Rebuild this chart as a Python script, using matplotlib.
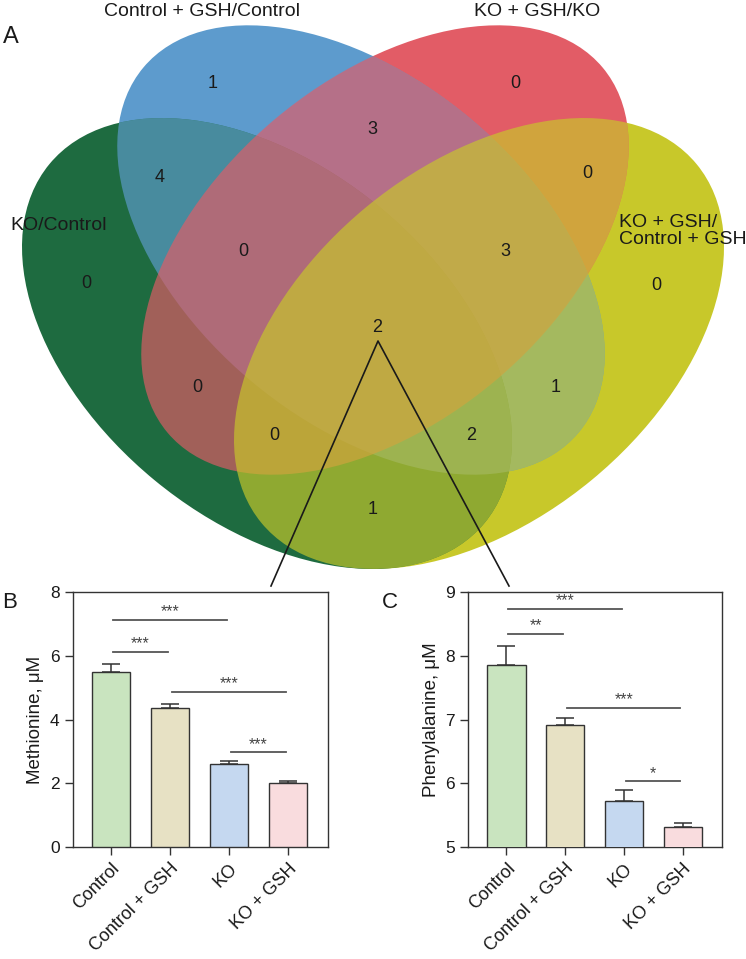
import matplotlib
matplotlib.use("Agg")
import matplotlib.pyplot as plt
from matplotlib.patches import Ellipse
from matplotlib.path import Path

plt.rcParams['font.family'] = ['Liberation Sans', 'DejaVu Sans']

# ---- Venn data (A) ----
set_names = ['KO/Control', 'Control + GSH/Control', 'KO + GSH/KO', 'KO + GSH/\nControl + GSH']
set_colors = ['#1e6b40', '#5d9bcd', '#e25c66', '#c8c82a']
# regions: letters = sets contained (G=KO/Control, B=Control+GSH/Control, R=KO+GSH/KO, Y=KO+GSH/Control+GSH)
regions = ['B', 'R', 'GB', 'BR', 'RY', 'G', 'Y', 'GBR', 'BRY', 'GBRY', 'GR', 'BY', 'GRY', 'GBY', 'GY']
counts = [1, 0, 4, 3, 0, 0, 0, 0, 3, 2, 0, 1, 0, 2, 1]

# ---- bar data (B, C) ----
groups = ['Control', 'Control + GSH', 'KO', 'KO + GSH']
bar_colors = ['#c9e4bf', '#e7e1c4', '#c5d8f0', '#f9dcde']
met_mean = [5.50, 4.36, 2.60, 2.01]
met_err = [0.24, 0.12, 0.10, 0.07]
phe_mean = [7.86, 6.92, 5.72, 5.31]
phe_err = [0.30, 0.10, 0.18, 0.07]
met_sig = [(0, 2, 7.12, '***'), (0, 1, 6.14, '***'), (1, 3, 4.86, '***'), (2, 3, 2.97, '***')]
phe_sig = [(0, 2, 8.74, '***'), (0, 1, 8.34, '**'), (1, 3, 7.18, '***'), (2, 3, 6.03, '*')]

# ---- layout (pixel space of the 746x959 canvas) ----
ell_center = [(267, 343.5), (361, 250), (385, 250), (479, 343.5)]
ell_semi = [(282, 177), (284, 171), (284, 171), (282, 177)]
ell_angle = [39.5, 40, -40, -39.5]
region_xy = {'B': (213, 83), 'R': (515, 83), 'GB': (160, 178), 'BR': (372, 129),
             'RY': (587, 174), 'G': (86, 283), 'Y': (656, 285), 'GBR': (243, 252),
             'BRY': (505, 252), 'GBRY': (377, 328), 'GR': (197, 388), 'BY': (556, 388),
             'GRY': (274, 435), 'GBY': (471, 435), 'GY': (373, 510)}
mix = 0.67

fig = plt.figure(figsize=(7.46, 9.59), dpi=100)
av = fig.add_axes([0, 0, 1, 1])
av.set_xlim(0, 746)
av.set_ylim(959, 0)
av.axis('off')


def make_ell(i, **kw):
    return Ellipse(ell_center[i], 2 * ell_semi[i][0], 2 * ell_semi[i][1],
                   angle=ell_angle[i], linewidth=0, **kw)


# opaque pass: each pixel shows its lowest set colour
for i in [3, 2, 1, 0]:
    av.add_patch(make_ell(i, facecolor=set_colors[i]))

# blended pass: upper sets mixed over the union of the lower ones
shapes = []
for i in range(4):
    e = make_ell(i)
    shapes.append(e.get_patch_transform().transform_path(e.get_path()))
for i in range(1, 4):
    p = make_ell(i, facecolor=set_colors[i], alpha=mix)
    av.add_patch(p)
    p.set_clip_path(Path.make_compound_path(*shapes[:i]), av.transData)

for r, c in zip(regions, counts):
    av.text(*region_xy[r], str(c), ha='center', va='center', fontsize=13, color='#1a1a1a')

av.text(202, 12, set_names[1], ha='center', va='center', fontsize=14, color='#1a1a1a')
av.text(537, 12, set_names[2], ha='center', va='center', fontsize=14, color='#1a1a1a')
av.text(10, 225, set_names[0], ha='left', va='center', fontsize=14, color='#1a1a1a')
av.text(619, 231, set_names[3], ha='left', va='center', fontsize=14, color='#1a1a1a',
        linespacing=1.05)

# zoom lines from the centre region to the two panels
av.plot([271, 378, 509], [586, 341, 586], color='#1a1a1a', lw=1.2)

av.text(11, 37, 'A', ha='center', va='center', fontsize=17, color='#1a1a1a')
av.text(10, 603, 'B', ha='center', va='center', fontsize=16, color='#1a1a1a')
av.text(390, 603, 'C', ha='center', va='center', fontsize=16, color='#1a1a1a')


def bar_panel(ax, mean, err, sig, ylim, yticks, ylabel):
    x = list(range(len(groups)))
    ax.errorbar(x, mean, yerr=[[0] * len(err), err], fmt='none', ecolor='#333333',
                elinewidth=1.1, capsize=6.5, capthick=1.1, zorder=2)
    ax.bar(x, mean, width=0.65, color=bar_colors, edgecolor='#333333', linewidth=1.0, zorder=3)
    for i, j, y, s in sig:
        ax.plot([i + 0.03, j - 0.04], [y, y], color='#555555', lw=1.3)
        ax.annotate(s, ((i + j) / 2, y), xytext=(0, 0.5), textcoords='offset points',
                    ha='center', va='bottom', fontsize=11.5, color='#444444')
    ax.set_ylim(*ylim)
    ax.set_yticks(yticks)
    ax.set_xlim(-0.65, 3.67)
    ax.set_xticks(x)
    ax.set_xticklabels(groups, rotation=45, ha='right', rotation_mode='anchor', fontsize=13)
    ax.set_ylabel(ylabel, fontsize=13.5, color='#1a1a1a')
    for sp in ax.spines.values():
        sp.set_color('#333333')
        sp.set_linewidth(1.0)
    ax.tick_params(direction='out', length=6, width=1, color='#333333',
                   labelcolor='#1a1a1a')
    ax.tick_params(axis='y', labelsize=12.5)


ax_b = fig.add_axes([72.7 / 746, 112 / 959, 255 / 746, 254.7 / 959])
bar_panel(ax_b, met_mean, met_err, met_sig, (0, 8), [0, 2, 4, 6, 8], 'Methionine, μM')
ax_c = fig.add_axes([468.3 / 746, 112 / 959, 253.7 / 746, 254.7 / 959])
bar_panel(ax_c, phe_mean, phe_err, phe_sig, (5, 9), [5, 6, 7, 8, 9], 'Phenylalanine, μM')

fig.savefig('out.png', dpi=100)
